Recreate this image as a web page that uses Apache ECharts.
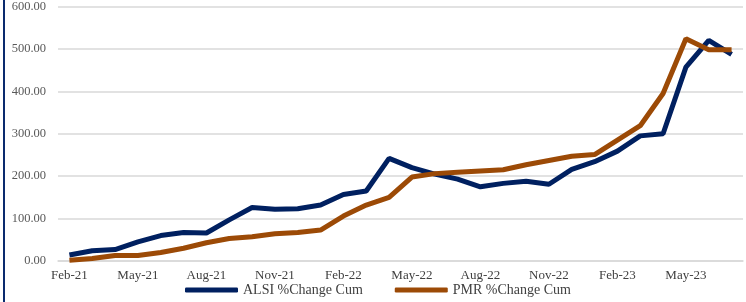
<!DOCTYPE html>
<html>
<head>
<meta charset="utf-8">
<script src="https://cdn.jsdelivr.net/npm/echarts@6/dist/echarts.min.js"></script>
<style>
  html, body { margin: 0; padding: 0; background: #fff; }
  #chart { width: 746px; height: 302px; }
</style>
</head>
<body>
<div id="chart"></div>
<script>
var months = ['Feb-21', 'Mar-21', 'Apr-21', 'May-21', 'Jun-21', 'Jul-21', 'Aug-21', 'Sep-21', 'Oct-21', 'Nov-21',
  'Dec-21', 'Jan-22', 'Feb-22', 'Mar-22', 'Apr-22', 'May-22', 'Jun-22', 'Jul-22', 'Aug-22', 'Sep-22',
  'Oct-22', 'Nov-22', 'Dec-22', 'Jan-23', 'Feb-23', 'Mar-23', 'Apr-23', 'May-23', 'Jun-23', 'Jul-23'];

var alsi = [14, 24, 27, 45, 60, 67, 66, 97, 126, 122,
  123, 132, 157, 165, 242, 220, 205, 193, 175, 183,
  188, 181, 216, 234, 259, 295, 300, 457, 520, 487];

var pmr = [2, 6, 13, 13, 20, 30, 43, 53, 57, 64,
  67, 73, 106, 132, 150, 198, 206, 209, 212, 215,
  227, 237, 247, 251, 285, 319, 395, 524, 498, 498];

var serif = '"Liberation Serif", "DejaVu Serif", serif';

var chart = echarts.init(document.getElementById('chart'));

chart.setOption({
  animation: false,
  grid: { left: 58, right: 3, top: 6, bottom: 41 },
  graphic: [{
    type: 'line',
    shape: { x1: 4, y1: 0, x2: 4, y2: 302 },
    style: { stroke: '#0a2a6e', lineWidth: 2 }
  }],
  legend: {
    left: 180,
    bottom: 0,
    itemWidth: 53,
    itemHeight: 5,
    itemGap: 32,
    icon: 'roundRect',
    textStyle: { fontFamily: serif, fontSize: 14, color: '#404040' },
    data: ['ALSI %Change Cum', 'PMR %Change Cum']
  },
  xAxis: {
    type: 'category',
    data: months,
    boundaryGap: true,
    axisLine: { lineStyle: { color: '#d9d9d9', width: 1.5 } },
    axisTick: { interval: 2, length: 5, lineStyle: { color: '#d9d9d9', width: 1.5 } },
    axisLabel: { interval: 2, margin: 8, fontFamily: serif, fontSize: 13, color: '#404040' }
  },
  yAxis: {
    type: 'value',
    min: 0,
    max: 600,
    interval: 100,
    axisLine: { show: false },
    axisTick: { show: false },
    splitLine: { lineStyle: { color: '#d9d9d9', width: 1.5 } },
    axisLabel: {
      margin: 12,
      fontFamily: serif,
      fontSize: 12.5,
      color: '#595959',
      formatter: function (v) { return v.toFixed(2); }
    }
  },
  series: [{
    name: 'ALSI %Change Cum',
    type: 'line',
    data: alsi,
    symbol: 'none',
    itemStyle: { color: '#002060' },
    lineStyle: { color: '#002060', width: 5 }
  }, {
    name: 'PMR %Change Cum',
    type: 'line',
    data: pmr,
    symbol: 'none',
    itemStyle: { color: '#9c4a06' },
    lineStyle: { color: '#9c4a06', width: 5 }
  }]
});
</script>
</body>
</html>
